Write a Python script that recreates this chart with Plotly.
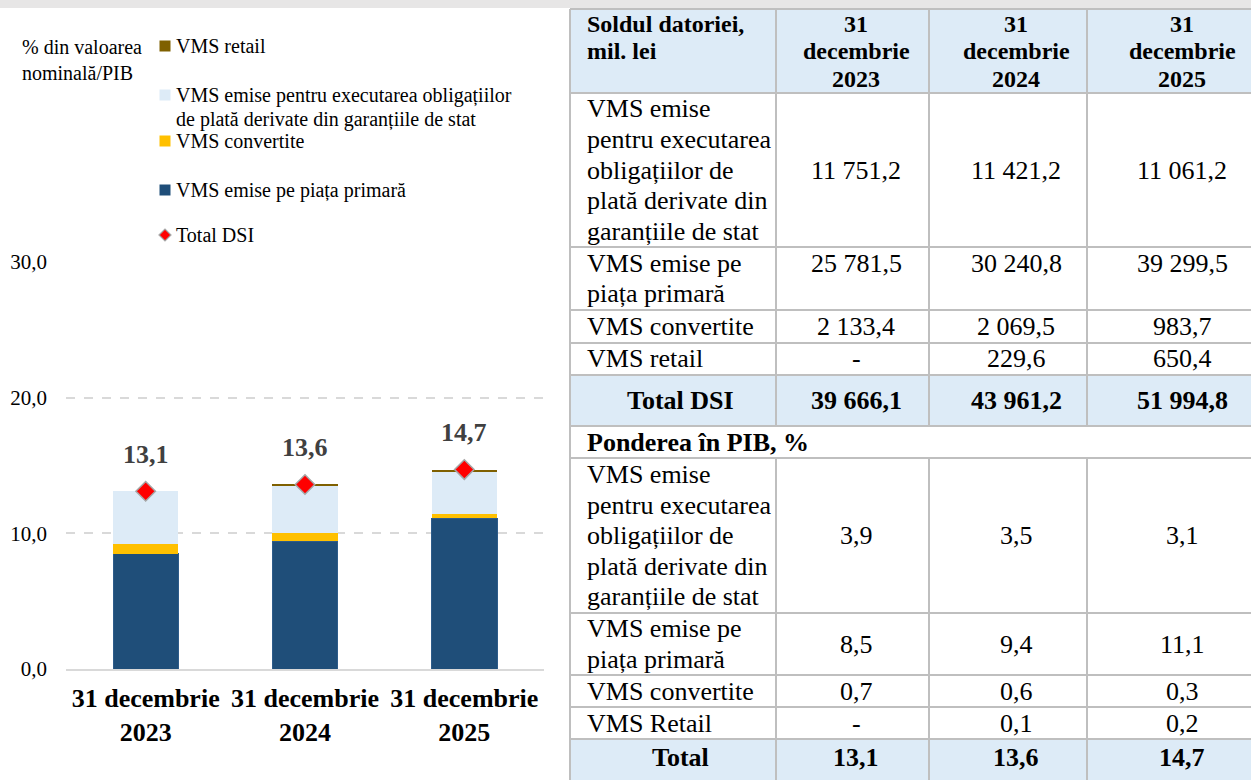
import plotly.graph_objects as go

W, H = 1251, 780
FONT = "Liberation Serif"

# ---------------- data ----------------
years = ["2023", "2024", "2025"]
categories = ["<b>31 decembrie<br>" + y + "</b>" for y in years]

# Soldul datoriei, mil. lei
mil_garantii = [11751.2, 11421.2, 11061.2]
mil_primara = [25781.5, 30240.8, 39299.5]
mil_convertite = [2133.4, 2069.5, 983.7]
mil_retail = [None, 229.6, 650.4]
mil_total = [39666.1, 43961.2, 51994.8]

# Ponderea in PIB, %
pib_garantii = [3.9, 3.5, 3.1]
pib_primara = [8.5, 9.4, 11.1]
pib_convertite = [0.7, 0.6, 0.3]
pib_retail = [None, 0.1, 0.2]
pib_total = [13.1, 13.6, 14.7]

name_garantii = "VMS emise pentru executarea obligațiilor<br>de plată derivate din garanțiile de stat"
name_primara = "VMS emise pe piața primară"
name_convertite = "VMS convertite"
name_retail = "VMS retail"
name_total = "Total DSI"
axis_title = "% din valoarea<br>nominală/PIB"

lbl_garantii = ["VMS emise", "pentru executarea", "obligațiilor de", "plată derivate din", "garanțiile de stat"]
lbl_primara = ["VMS emise pe", "piața primară"]
lbl_convertite = ["VMS convertite"]
lbl_retail1 = ["VMS retail"]
lbl_retail2 = ["VMS Retail"]
hdr_first = ["Soldul datoriei,", "mil. lei"]
section2 = "Ponderea în PIB, %"

# ---------------- style ----------------
C_PRIM = "#1F4E79"
C_CONV = "#FFC000"
C_GAR = "#DDEBF7"
C_RET = "#7F6000"
C_TOT = "#FF0000"
C_GRID = "#D9D9D9"
C_TBL = "#BFBFBF"
C_FILL = "#DDEBF7"


def fmt(v):
    if v is None:
        return "-"
    return f"{v:,.1f}".replace(",", " ").replace(".", ",")


def X(px):
    return px / W


def Y(py):
    return 1 - py / H


def b(s):
    return "<b>" + s + "</b>"


fig = go.Figure()

bar_specs = [
    (name_primara, pib_primara, C_PRIM, 1, "#2E5C8A"),
    (name_convertite, pib_convertite, C_CONV, 0, C_CONV),
    (name_garantii, pib_garantii, C_GAR, 0, C_GAR),
    (name_retail, pib_retail, C_RET, 0, C_RET),
]
for nm, vals, col, lw, lc in bar_specs:
    fig.add_trace(go.Bar(
        x=categories, y=[v if v is not None else 0 for v in vals], name=nm,
        marker=dict(color=col, line=dict(width=lw, color=lc)),
        showlegend=False, hoverinfo="skip",
    ))

fig.add_trace(go.Scatter(
    x=categories, y=pib_total, mode="markers", name=name_total, showlegend=False,
    marker=dict(symbol="diamond", size=15, color=C_TOT, line=dict(width=1.5, color="#A6A6A6")),
))

annotations = []
shapes = []
for c, v in zip(categories, pib_total):
    annotations.append(dict(x=c, y=v, xref="x", yref="y", yshift=37, text=b(fmt(v)), showarrow=False,
                            font=dict(family=FONT, size=26, color="#404040")))

annotations.append(dict(x=X(20), y=Y(60), xref="paper", yref="paper", xanchor="left", yanchor="middle",
                        align="left", text=axis_title, showarrow=False,
                        font=dict(family=FONT, size=20, color="#000000")))

# ---------------- legend (drawn as keys + labels) ----------------
LEG_SYM_X = 165
LEG_TXT_X = 174
legend_items = [
    (name_retail, C_RET, 46, "square"),
    (name_garantii, C_GAR, 95, "square"),
    (name_convertite, C_CONV, 141, "square"),
    (name_primara, C_PRIM, 190, "square"),
    (name_total, C_TOT, 235, "diamond"),
]
for nm, col, py, sym in legend_items:
    lines = nm.split("<br>")
    for i, s in enumerate(lines):
        annotations.append(dict(x=X(LEG_TXT_X), y=Y(py + i * 24), xref="paper", yref="paper",
                                xanchor="left", yanchor="middle", text=s, showarrow=False,
                                font=dict(family=FONT, size=20, color="#000000")))
    if sym == "square":
        shapes.append(dict(type="rect", xref="paper", yref="paper",
                           x0=X(LEG_SYM_X - 5.5), x1=X(LEG_SYM_X + 5.5), y0=Y(py + 5.5), y1=Y(py - 5.5),
                           fillcolor=col, line=dict(width=0)))
    else:
        r = 6
        path = (f"M {X(LEG_SYM_X - r)},{Y(py)} L {X(LEG_SYM_X)},{Y(py - r)} "
                f"L {X(LEG_SYM_X + r)},{Y(py)} L {X(LEG_SYM_X)},{Y(py + r)} Z")
        shapes.append(dict(type="path", xref="paper", yref="paper", path=path,
                           fillcolor=col, line=dict(width=1.2, color="#A6A6A6")))

# ---------------- table ----------------
COLS = [570, 776, 929, 1087, 1262]
VAL_X = [856, 1016, 1182]
LBL_X = 585
TOT_X = 680
ROWS = [9, 93, 247, 310, 343, 375, 426, 458, 613, 675, 707, 739, 782]
LH = 30.5

shapes.append(dict(type="rect", xref="paper", yref="paper", x0=0, x1=1, y0=Y(8), y1=1,
                   fillcolor="#E7E6E6", line=dict(width=0), layer="below"))
for r0, r1 in [(ROWS[0], ROWS[1]), (ROWS[5], ROWS[6]), (ROWS[11], ROWS[12])]:
    shapes.append(dict(type="rect", xref="paper", yref="paper", x0=X(COLS[0]), x1=X(COLS[-1]),
                       y0=Y(r1), y1=Y(r0), fillcolor=C_FILL, line=dict(width=0), layer="below"))
for ry in ROWS[:-1]:
    shapes.append(dict(type="line", xref="paper", yref="paper", x0=X(COLS[0]), x1=X(COLS[-1]),
                       y0=Y(ry), y1=Y(ry), line=dict(color=C_TBL, width=2)))
shapes.append(dict(type="line", xref="paper", yref="paper", x0=X(COLS[0]), x1=X(COLS[0]),
                   y0=Y(ROWS[0]), y1=Y(ROWS[-1]), line=dict(color=C_TBL, width=2)))
for cx in COLS[1:4]:
    for a, bb in [(ROWS[0], ROWS[6]), (ROWS[7], ROWS[-1])]:
        shapes.append(dict(type="line", xref="paper", yref="paper", x0=X(cx), x1=X(cx),
                           y0=Y(a), y1=Y(bb), line=dict(color=C_TBL, width=2)))


def txt(px, py, s, size=26, bold=False, anchor="center"):
    annotations.append(dict(x=X(px), y=Y(py), xref="paper", yref="paper", xanchor=anchor,
                            yanchor="middle", text=b(s) if bold else s, showarrow=False,
                            font=dict(family=FONT, size=size, color="#000000")))


# header
for i, s in enumerate(hdr_first):
    txt(LBL_X, 24 + i * 27.5, s, 24, True, "left")
for j, yv in enumerate(years):
    for i, s in enumerate(["31", "decembrie", yv]):
        txt(VAL_X[j], 24 + i * 27.5, s, 24, True)


def body_row(r, lines, values, top_values=False):
    y0, y1 = ROWS[r], ROWS[r + 1]
    mid = (y0 + y1) / 2
    first = mid - (len(lines) - 1) * LH / 2
    for i, s in enumerate(lines):
        txt(LBL_X, first + i * LH, s, 26, False, "left")
    vy = first if top_values else mid
    for j, v in enumerate(values):
        txt(VAL_X[j], vy, fmt(v))


body_row(1, lbl_garantii, mil_garantii)
body_row(2, lbl_primara, mil_primara, top_values=True)
body_row(3, lbl_convertite, mil_convertite)
body_row(4, lbl_retail1, mil_retail)
mid = (ROWS[5] + ROWS[6]) / 2
txt(TOT_X, mid, name_total, 26, True)
for j, v in enumerate(mil_total):
    txt(VAL_X[j], mid, fmt(v), 26, True)
txt(LBL_X, (ROWS[6] + ROWS[7]) / 2, section2, 26, True, "left")
body_row(7, lbl_garantii, pib_garantii)
body_row(8, lbl_primara, pib_primara)
body_row(9, lbl_convertite, pib_convertite)
body_row(10, lbl_retail2, pib_retail)
mid = (ROWS[11] + 775) / 2
txt(TOT_X, mid, "Total", 26, True)
for j, v in enumerate(pib_total):
    txt(VAL_X[j], mid, fmt(v), 26, True)

fig.update_layout(
    width=W, height=H,
    margin=dict(l=0, r=0, t=0, b=0),
    paper_bgcolor="white", plot_bgcolor="white",
    barmode="stack", bargap=0.59,
    separators=", ",
    showlegend=False,
    xaxis=dict(domain=[X(66), X(544)], anchor="y", showline=True, linecolor=C_GRID, linewidth=2,
               ticks="", automargin=False, fixedrange=True, ticklabelstandoff=5,
               tickfont=dict(family=FONT, size=26, color="#000000")),
    yaxis=dict(domain=[Y(669), Y(262)], anchor="x", range=[0, 30], dtick=10, tickformat=".1f",
               showgrid=True, gridcolor=C_GRID, griddash="dash", gridwidth=1.5, zeroline=False,
               ticks="", ticklabelstandoff=18, automargin=False, fixedrange=True,
               tickfont=dict(family=FONT, size=21, color="#000000")),
    shapes=shapes,
    annotations=annotations,
)

post = (
    "document.body.style.margin='0';"
    "var st=document.createElement('style');"
    "st.textContent=\"svg text{font-family:'Liberation Serif',serif !important;}\";"
    "document.head.appendChild(st);"
)
fig.write_html("out.html", config={"displayModeBar": False}, post_script=post)
